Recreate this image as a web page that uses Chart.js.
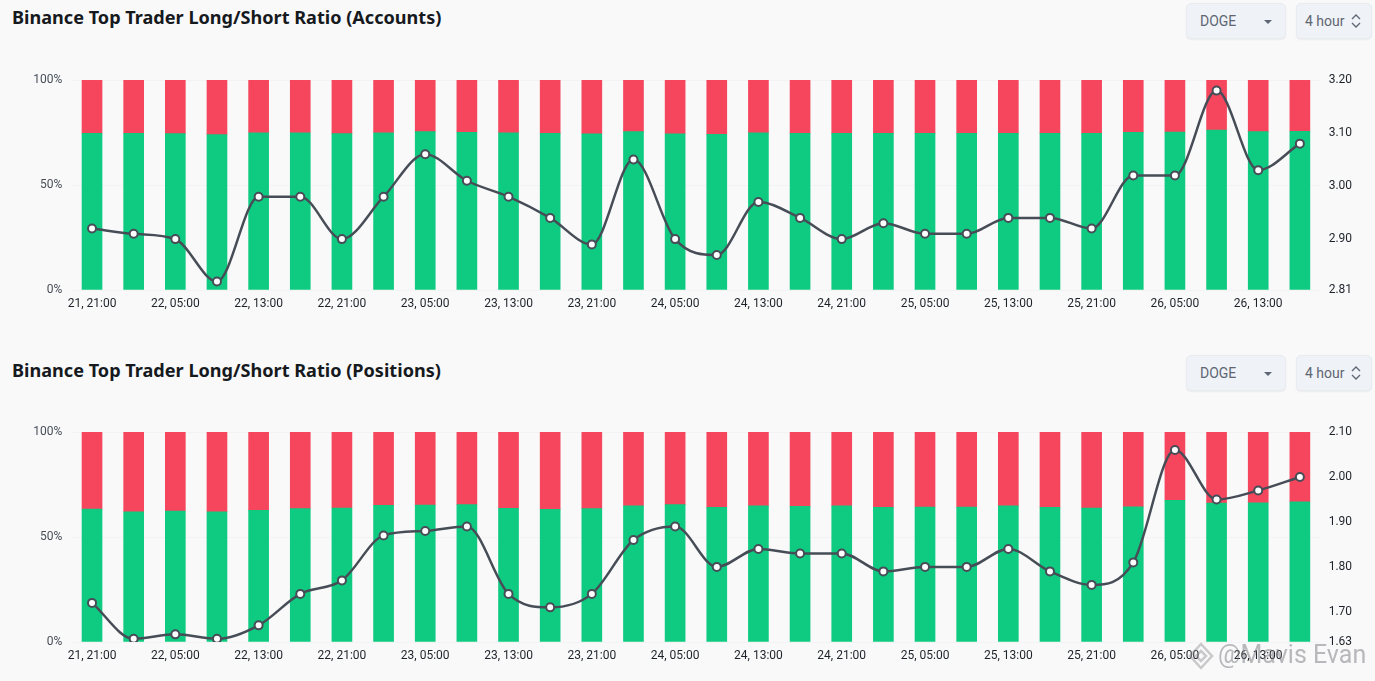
<!DOCTYPE html>
<html>
<head>
<meta charset="utf-8">
<title>Binance Top Trader Long/Short Ratio</title>
<script src="https://cdn.jsdelivr.net/npm/chart.js@4/dist/chart.umd.js"></script>
<style>
  html, body { margin: 0; padding: 0; background: #f9f9fa; overflow: hidden; }
  body { position: relative; width: 1375px; height: 681px; font-family: "Noto Sans", sans-serif; }
  canvas { position: absolute; left: 0; }
  #chartAccounts { top: 60px; }
  #chartPositions { top: 412px; }
  .title { position: absolute; left: 12px; margin: 0; font-size: 18.1px; font-weight: 700; color: #16191d; line-height: 24px; white-space: nowrap; }
  .pick { position: absolute; height: 36px; line-height: 34px; box-sizing: border-box; background: #eff2f6; border: 1px solid #e8ebef; border-radius: 5px; color: #5e6673; font-size: 14px; font-family: Roboto, sans-serif; box-shadow: 0 1px 2px rgba(0,0,0,0.06); }
  .coin { left: 1186px; width: 100px; padding-left: 13px; }
  .coin::after { content: ""; position: absolute; right: 13px; top: 16px; border-left: 4px solid transparent; border-right: 4px solid transparent; border-top: 4px solid #5e6673; }
  .period { left: 1296px; width: 76px; padding-left: 8px; }
  .period svg { position: absolute; right: 9px; top: 9px; }
  .mark { position: absolute; left: 1218px; top: 639px; font-size: 25px; font-family: Roboto, sans-serif; color: rgba(120,120,125,0.5); line-height: 32px; white-space: nowrap; }
  .markIcon { position: absolute; left: 1188px; top: 642px; }
</style>
</head>
<body>
<h2 class="title" style="top:5px">Binance Top Trader Long/Short Ratio (Accounts)</h2>
<div class="pick coin" style="top:3px">DOGE</div>
<div class="pick period" style="top:3px">4 hour<svg width="12" height="16" viewBox="0 0 12 16"><path d="M2 6l4-4 4 4M2 10l4 4 4-4" fill="none" stroke="#5e6673" stroke-width="1.3"/></svg></div>
<canvas id="chartAccounts" width="1375" height="260"></canvas>

<h2 class="title" style="top:358px">Binance Top Trader Long/Short Ratio (Positions)</h2>
<div class="pick coin" style="top:355px">DOGE</div>
<div class="pick period" style="top:355px">4 hour<svg width="12" height="16" viewBox="0 0 12 16"><path d="M2 6l4-4 4 4M2 10l4 4 4-4" fill="none" stroke="#5e6673" stroke-width="1.3"/></svg></div>
<canvas id="chartPositions" width="1375" height="260"></canvas>

<svg class="markIcon" width="26" height="28" viewBox="0 0 26 28"><path d="M13 2l11 12-11 12L2 14zM13 9l5 5-5 5-5-5z" fill="none" stroke="rgba(130,130,135,0.4)" stroke-width="2.5"/></svg>
<div class="mark">@Mavis Evan</div>

<script>
"use strict";

const categories = [
  "21, 21:00", "22, 01:00", "22, 05:00", "22, 09:00", "22, 13:00", "22, 17:00",
  "22, 21:00", "23, 01:00", "23, 05:00", "23, 09:00", "23, 13:00", "23, 17:00",
  "23, 21:00", "24, 01:00", "24, 05:00", "24, 09:00", "24, 13:00", "24, 17:00",
  "24, 21:00", "25, 01:00", "25, 05:00", "25, 09:00", "25, 13:00", "25, 17:00",
  "25, 21:00", "26, 01:00", "26, 05:00", "26, 09:00", "26, 13:00", "26, 17:00",
];

const percentTicks = [0, 50, 100];

const accountsLong = [
  74.6, 74.6, 74.5, 74.0, 74.9, 74.9, 74.5, 74.9, 75.4, 75.1,
  74.9, 74.6, 74.4, 75.4, 74.4, 74.1, 74.8, 74.6, 74.6, 74.6,
  74.6, 74.6, 74.6, 74.6, 74.6, 75.1, 75.2, 76.2, 75.4, 75.6,
];
const accountsShort = [
  25.4, 25.4, 25.5, 26.0, 25.1, 25.1, 25.5, 25.1, 24.6, 24.9,
  25.1, 25.4, 25.6, 24.6, 25.6, 25.9, 25.2, 25.4, 25.4, 25.4,
  25.4, 25.4, 25.4, 25.4, 25.4, 24.9, 24.8, 23.8, 24.6, 24.4,
];
const accountsRatio = [
  2.92, 2.91, 2.90, 2.82, 2.98, 2.98, 2.90, 2.98, 3.06, 3.01,
  2.98, 2.94, 2.89, 3.05, 2.90, 2.87, 2.97, 2.94, 2.90, 2.93,
  2.91, 2.91, 2.94, 2.94, 2.92, 3.02, 3.02, 3.18, 3.03, 3.08,
];
// the bottom label is rounded, the axis itself starts a little lower
const accountsRatioMin = 2.804;
const accountsRatioTicks = [2.90, 3.00, 3.10, 3.20];
const accountsRatioLabels = ["2.81", "2.90", "3.00", "3.10", "3.20"];

const positionsLong = [
  63.3, 62.0, 62.4, 62.0, 62.7, 63.5, 63.8, 65.1, 65.2, 65.4,
  63.6, 63.2, 63.5, 64.9, 65.4, 64.1, 64.8, 64.6, 64.8, 64.1,
  64.3, 64.3, 64.8, 64.1, 63.8, 64.4, 67.5, 66.2, 66.3, 66.8,
];
const positionsShort = [
  36.7, 38.0, 37.6, 38.0, 37.3, 36.5, 36.2, 34.9, 34.8, 34.6,
  36.4, 36.8, 36.5, 35.1, 34.6, 35.9, 35.2, 35.4, 35.2, 35.9,
  35.7, 35.7, 35.2, 35.9, 36.2, 35.6, 32.5, 33.8, 33.7, 33.2,
];
const positionsRatio = [
  1.72, 1.64, 1.65, 1.64, 1.67, 1.74, 1.77, 1.87, 1.88, 1.89,
  1.74, 1.71, 1.74, 1.86, 1.89, 1.80, 1.84, 1.83, 1.83, 1.79,
  1.80, 1.80, 1.84, 1.79, 1.76, 1.81, 2.06, 1.95, 1.97, 2.00,
];
const positionsRatioMin = 1.633;
const positionsRatioTicks = [1.70, 1.80, 1.90, 2.00, 2.10];
const positionsRatioLabels = ["1.63", "1.70", "1.80", "1.90", "2.00", "2.10"];

const tickFont = { family: "Roboto, sans-serif", size: 12 };

function buildChart(canvasId, longValues, shortValues, ratioValues, ratioMin, ratioTicks, ratioLabels) {
  return new Chart(document.getElementById(canvasId), {
    data: {
      labels: categories,
      datasets: [
        {
          type: "line",
          label: "Long/Short Ratio",
          data: ratioValues,
          yAxisID: "yRatio",
          order: 0,
          borderColor: "#474d57",
          borderWidth: 2.5,
          cubicInterpolationMode: "monotone",
          pointRadius: 4,
          pointBackgroundColor: "#ffffff",
          pointBorderColor: "#474d57",
          pointBorderWidth: 2,
        },
        {
          type: "bar",
          label: "Long",
          data: longValues,
          yAxisID: "yPercent",
          order: 1,
          backgroundColor: "#0ecb81",
          barThickness: 20,
        },
        {
          type: "bar",
          label: "Short",
          data: shortValues,
          yAxisID: "yPercent",
          order: 1,
          backgroundColor: "#f6465d",
          barThickness: 20,
        },
      ],
    },
    options: {
      responsive: false,
      animation: false,
      layout: { padding: { top: 20 } },
      plugins: { legend: { display: false }, tooltip: { enabled: false } },
      scales: {
        x: {
          stacked: true,
          grid: { display: false, drawTicks: false },
          border: { display: false },
          afterFit: (scale) => { scale.height = 30; },
          ticks: {
            autoSkip: false,
            maxRotation: 0,
            padding: 7,
            color: "#1e2329",
            font: tickFont,
            callback: function (value, index) {
              return index % 2 === 0 && index < 29 ? categories[index] : "";
            },
          },
        },
        yPercent: {
          position: "left",
          stacked: true,
          min: 0,
          max: 100,
          afterFit: (scale) => { scale.width = 71.2; },
          afterBuildTicks: (scale) => { scale.ticks = percentTicks.map((value) => ({ value })); },
          grid: { color: "#f2f3f4", drawTicks: false },
          border: { display: false },
          ticks: {
            padding: 9,
            color: "#474d57",
            font: tickFont,
            callback: (value) => value + "%",
          },
        },
        yRatio: {
          position: "right",
          min: ratioMin,
          max: ratioTicks[ratioTicks.length - 1],
          afterFit: (scale) => { scale.width = 54.3; },
          afterBuildTicks: (scale) => {
            scale.ticks = [ratioMin, ...ratioTicks].map((value) => ({ value }));
          },
          grid: { display: false, drawTicks: false },
          border: { display: false },
          ticks: {
            padding: 8,
            color: "#1e2329",
            font: tickFont,
            callback: (value, index) => ratioLabels[index],
          },
        },
      },
    },
  });
}

buildChart("chartAccounts", accountsLong, accountsShort, accountsRatio, accountsRatioMin, accountsRatioTicks, accountsRatioLabels);
buildChart("chartPositions", positionsLong, positionsShort, positionsRatio, positionsRatioMin, positionsRatioTicks, positionsRatioLabels);
</script>
</body>
</html>
